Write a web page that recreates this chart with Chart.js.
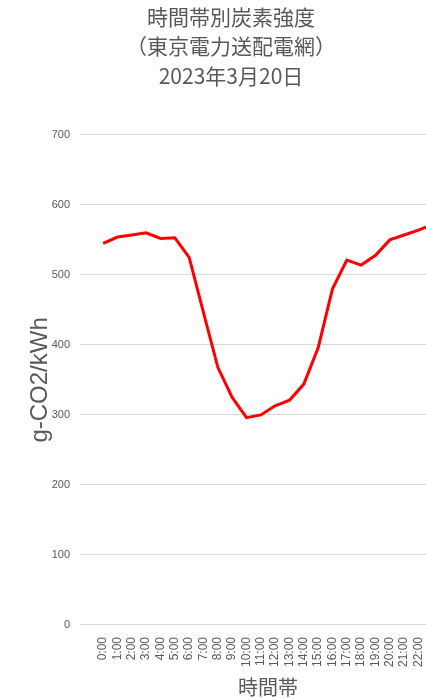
<!DOCTYPE html>
<html>
<head>
<meta charset="utf-8">
<script src="https://cdn.jsdelivr.net/npm/chart.js@4"></script>
<style>
  html, body { margin: 0; padding: 0; background: #fff; overflow: hidden; }
  #wrap { position: absolute; left: 0; top: 0; width: 458px; height: 699px; }
</style>
</head>
<body>
<div id="wrap"><canvas id="carbonChart"></canvas></div>
<script>
const hours = ['0:00', '1:00', '2:00', '3:00', '4:00', '5:00', '6:00', '7:00', '8:00', '9:00', '10:00', '11:00',
               '12:00', '13:00', '14:00', '15:00', '16:00', '17:00', '18:00', '19:00', '20:00', '21:00', '22:00', '23:00'];
const intensity = [545, 554, 557, 560, 552, 553, 525, 446, 368, 325, 296, 300,
                   313, 321, 344, 396, 480, 521, 514, 528, 550, 557, 564, 572];
const titleLines = ['時間帯別炭素強度', '（東京電力送配電網）', '2023年3月20日'];
const yTitle = 'g-CO2/kWh';
const xTitle = '時間帯';

document.addEventListener("DOMContentLoaded", function () {
    const textColor = '#595959';
    const gridColor = '#d9d9d9';
    const ctx = document.getElementById('carbonChart').getContext('2d');
    new Chart(ctx, {
        type: 'line',
        data: {
            labels: hours,
            datasets: [{
                label: 'g-CO2/kWh',
                data: intensity,
                borderColor: '#ff0000',
                borderWidth: 3,
                pointRadius: 0,
                tension: 0,
                fill: false,
            }]
        },
        options: {
            responsive: true,
            maintainAspectRatio: false,
            animation: false,
            layout: {
                padding: { left: 22, right: 18, top: 0, bottom: 0 }
            },
            plugins: {
                legend: { display: false },
                tooltip: { enabled: false },
                title: {
                    display: true,
                    text: titleLines,
                    color: textColor,
                    font: { family: '"Noto Sans CJK JP"', size: 21, weight: 'normal', lineHeight: 1.41 },
                    padding: { top: 2, bottom: 44 },
                },
            },
            scales: {
                x: {
                    offset: true,
                    grid: { display: false },
                    border: { display: true, color: gridColor },
                    ticks: {
                        autoSkip: false,
                        minRotation: 90,
                        maxRotation: 90,
                        color: textColor,
                        padding: 4,
                        font: { family: '"Liberation Sans"', size: 12 },
                    },
                    title: {
                        display: true,
                        text: xTitle,
                        color: textColor,
                        font: { family: '"Noto Sans CJK JP"', size: 20 },
                        padding: { top: 4, bottom: 0 },
                    },
                },
                y: {
                    min: 0,
                    max: 700,
                    border: { display: false },
                    grid: { color: gridColor, tickLength: 16 },
                    ticks: {
                        stepSize: 100,
                        color: textColor,
                        padding: 10,
                        font: { family: '"Liberation Sans"', size: 11 },
                    },
                    title: {
                        display: true,
                        text: yTitle,
                        color: textColor,
                        font: { family: '"Liberation Sans"', size: 24 },
                        padding: { top: 4, bottom: 4 },
                    },
                    afterFit: function (scale) {
                        scale.width = 74;
                    },
                },
            },
        }
    });
});
</script>
</body>
</html>
